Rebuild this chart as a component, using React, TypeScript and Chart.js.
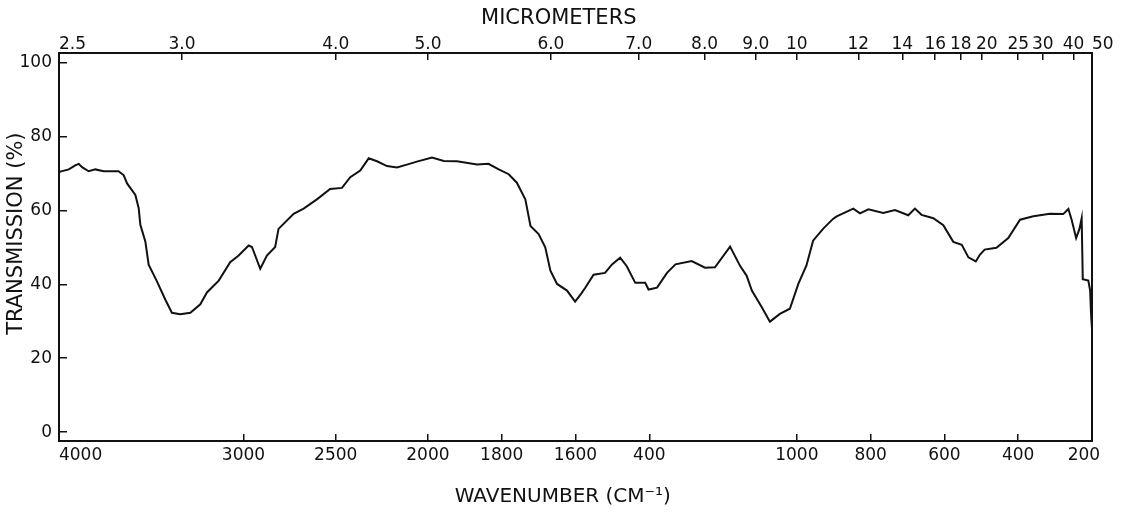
import React, { useEffect, useRef } from 'react';
import { Chart, LinearScale, registerables } from 'chart.js';

Chart.register(...registerables);

// Spectrum (wavenumber in cm-1, transmission in %)
const WAVENUMBERS = [
  4000, 3993, 3947, 3912, 3893, 3875, 3839, 3803, 3758, 3677, 3649, 3631, 3586, 3568, 3559, 3532,
  3514, 3469, 3424, 3388, 3343, 3288, 3234, 3198, 3134, 3072, 3026, 2972, 2954, 2909, 2873, 2828,
  2810, 2728, 2674, 2602, 2530, 2466, 2421, 2367, 2321, 2276, 2222, 2168, 2114, 2060, 1989, 1957,
  1921, 1867, 1836, 1808, 1781, 1759, 1736, 1722, 1700, 1682, 1668, 1650, 1623, 1601, 1585, 1574,
  1551, 1520, 1501, 1479, 1461, 1438, 1411, 1402, 1379, 1352, 1329, 1285, 1249, 1222, 1181, 1154,
  1136, 1122, 1095, 1073, 1046, 1019, 996, 974, 956, 929, 902, 892, 879, 847, 829, 806, 766, 734,
  698, 680, 662, 630, 603, 576, 553, 535, 515, 504, 491, 459, 427, 395, 359, 314, 278, 264, 255,
  243, 234, 228, 225, 210, 205, 203, 202, 200,
];
const TRANSMISSION = [
  70.3, 70.5, 71.1, 72.2, 72.6, 71.7, 70.6, 71.1, 70.6, 70.6, 69.5, 67.3, 64.2, 60.6, 56.1, 51.6,
  45.3, 40.8, 35.9, 32.3, 31.9, 32.3, 34.6, 37.8, 41.0, 46.0, 47.8, 50.5, 50.1, 44.2, 47.8, 50.1,
  55.0, 59.1, 60.5, 63.0, 65.8, 66.1, 69.0, 70.8, 74.1, 73.3, 72.0, 71.6, 72.4, 73.2, 74.3, 73.4,
  73.3, 72.4, 72.6, 71.1, 69.8, 67.5, 63.0, 55.8, 53.6, 50.0, 43.7, 40.1, 38.3, 35.3, 37.4, 39.0,
  42.6, 43.1, 45.4, 47.2, 44.9, 40.4, 40.4, 38.6, 39.1, 43.1, 45.4, 46.3, 44.5, 44.6, 50.2, 45.0,
  42.3, 38.3, 33.8, 29.9, 32.0, 33.4, 40.1, 45.1, 51.8, 55.0, 57.7, 58.4, 59.0, 60.5, 59.2, 60.3, 59.3, 60.1,
  58.7, 60.5, 58.8, 57.9, 56.0, 51.5, 50.7, 47.3, 46.2, 48.0, 49.4, 49.9, 52.5, 57.5, 58.4, 59.1, 59.0, 60.4, 57.4,
  52.5, 55.0, 57.9, 41.4, 41.0, 38.3, 33.0, 31.0, 28.0,
];

const BOTTOM_TICKS = [4000, 3000, 2500, 2000, 1800, 1600, 1400, 1000, 800, 600, 400, 200];
const BOTTOM_LABELS = ['        4000', '3000', '2500', '2000', '1800', '1600', '400', '1000', '800', '600', '400', '200   '];
const MICRONS = [2.5, 3, 4, 5, 6, 7, 8, 9, 10, 12, 14, 16, 18, 20, 25, 30, 40, 50];
const MICRON_LABELS = ['     2.5', '3.0', '4.0', '5.0', '6.0', '7.0', '8.0', '9.0', '10', '12', '14', '16', '18', '  20', '25', '30', '40', '    50'];
const Y_TICKS = [0, 20, 40, 60, 80, 100];

// Grating spectrometer abscissa: 4000-2000 cm-1 at half the scale of 2000-200 cm-1
function toUnits(w: number) {
  return w >= 2000 ? (4000 - w) / 2 : 1000 + (2000 - w);
}
function fromUnits(u: number) {
  return u <= 1000 ? 4000 - 2 * u : 2000 - (u - 1000);
}

class WavenumberScale extends LinearScale {
  static id = 'wavenumber';
  static defaults = {};
  getPixelForValue(value: number) {
    const a = toUnits(this.max);
    const b = toUnits(this.min);
    return this.getPixelForDecimal((toUnits(value) - a) / (b - a));
  }
  getValueForPixel(pixel: number) {
    const a = toUnits(this.max);
    const b = toUnits(this.min);
    return fromUnits(a + this.getDecimalForPixel(pixel) * (b - a));
  }
}
Chart.register(WavenumberScale as any);

const INK = '#111';
const FONT = 'DejaVu Sans';

function fixSize(prop: 'width' | 'height', size: number) {
  return (a: any) => {
    a[prop] = size;
    a.paddingLeft = 0;
    a.paddingRight = 0;
    a.paddingTop = 0;
    a.paddingBottom = 0;
  };
}

export default function App() {
  const ref = useRef<HTMLCanvasElement | null>(null);

  useEffect(() => {
    if (!ref.current) return;
    const points = WAVENUMBERS.map((w, i) => ({ x: w, y: TRANSMISSION[i] }));
    const tickGrid = (len: number) => ({
      display: true,
      drawOnChartArea: false,
      drawTicks: true,
      tickLength: len,
      color: INK,
      lineWidth: 1.5,
    });
    const border = { display: true, color: INK, width: 2 };
    const tickFont = { family: FONT, size: 17 };
    const chart = new Chart(ref.current, {
      type: 'line',
      data: {
        datasets: [
          {
            data: points,
            borderColor: INK,
            borderWidth: 2,
            pointRadius: 0,
            tension: 0,
            fill: false,
          },
        ],
      },
      options: {
        animation: false,
        responsive: false,
        events: [],
        layout: { padding: 0 },
        plugins: { legend: { display: false }, tooltip: { enabled: false } },
        scales: {
          x: {
            type: 'wavenumber' as any,
            position: 'bottom',
            min: 200,
            max: 4000,
            afterBuildTicks: (a: any) => {
              a.ticks = BOTTOM_TICKS.map((v) => ({ value: v }));
            },
            afterFit: fixSize('height', 71),
            grid: tickGrid(-7),
            border,
            ticks: {
              autoSkip: false,
              maxRotation: 0,
              minRotation: 0,
              padding: 11,
              color: INK,
              font: tickFont,
              callback: (_v: any, i: number) => BOTTOM_LABELS[i],
            },
            title: {
              display: true,
              text: 'WAVENUMBER (CM⁻¹)    ',
              color: INK,
              font: { family: FONT, size: 20 },
              padding: { top: 0, bottom: 3 },
            },
          },
          x2: {
            type: 'wavenumber' as any,
            position: 'top',
            min: 200,
            max: 4000,
            afterBuildTicks: (a: any) => {
              a.ticks = MICRONS.map((m) => ({ value: 10000 / m }));
            },
            afterFit: fixSize('height', 53),
            grid: tickGrid(-7),
            border,
            ticks: {
              autoSkip: false,
              maxRotation: 0,
              minRotation: 0,
              padding: 5,
              color: INK,
              font: tickFont,
              callback: (_v: any, i: number) => MICRON_LABELS[i],
            },
            title: {
              display: true,
              text: 'MICROMETERS     ',
              color: INK,
              font: { family: FONT, size: 21 },
              padding: { top: 6, bottom: 0 },
            },
          },
          y: {
            type: 'linear',
            position: 'left',
            min: -2.4,
            max: 102.6,
            afterBuildTicks: (a: any) => {
              a.ticks = Y_TICKS.map((v) => ({ value: v }));
            },
            afterFit: fixSize('width', 59),
            grid: tickGrid(-8),
            border,
            ticks: {
              autoSkip: false,
              padding: 15,
              color: INK,
              font: tickFont,
              callback: (v: any) => String(v),
            },
            title: {
              display: true,
              text: '    TRANSMISSION (%)',
              color: INK,
              font: { family: FONT, size: 21 },
              padding: { top: 4, bottom: 0 },
            },
          },
          y2: {
            type: 'linear',
            position: 'right',
            min: 0,
            max: 1,
            afterFit: fixSize('width', 30),
            grid: { display: false },
            border,
            ticks: { display: false },
          },
        },
      } as any,
    });
    return () => chart.destroy();
  }, []);

  return (
    <div style={{ position: 'absolute', left: 0, top: 0, width: 1122, height: 512, background: '#fff' }}>
      <canvas ref={ref} width={1122} height={512} style={{ display: 'block' }} />
    </div>
  );
}
